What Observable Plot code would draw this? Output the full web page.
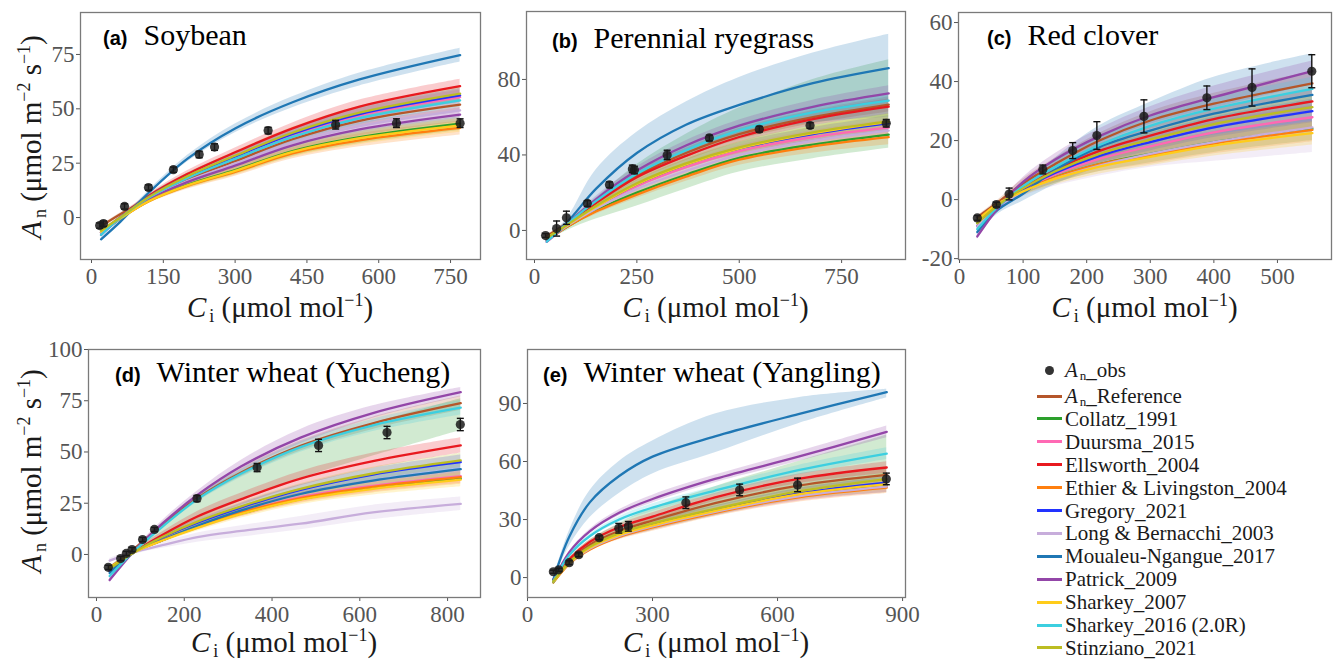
<!DOCTYPE html>
<html>
<head>
<meta charset="utf-8">
<script src="https://cdn.jsdelivr.net/npm/d3@7"></script>
<script src="https://cdn.jsdelivr.net/npm/@observablehq/plot@0.6"></script>
<style>
  html, body { margin: 0; padding: 0; background: #fff; }
  #root { position: relative; width: 1336px; height: 663px; overflow: hidden; background: #fff; }
  .pnl { position: absolute; }
  .pnl svg { max-width: none !important; display: block; }
  .ttl { position: absolute; white-space: nowrap; font-family: 'Liberation Serif', 'Times New Roman', serif; font-size: 30px; line-height: 30px; color: #000; }
  .ttl b { font-family: 'Liberation Sans', Arial, sans-serif; font-weight: bold; font-size: 20px; margin-right: 16px; }
  .axt { position: absolute; white-space: nowrap; font-family: 'Liberation Serif', 'Times New Roman', serif; font-size: 29px; line-height: 24px; color: #1a1a1a; }
  .yt { transform: translate(-50%, -50%) rotate(-90deg); }
  sub { font-size: 0.62em; vertical-align: -0.3em; line-height: 0; margin-left: 3px; }
  sup { font-size: 0.62em; vertical-align: 0.6em; line-height: 0; }
  .leg { position: absolute; left: 1037px; height: 20px; line-height: 20px; display: flex; align-items: center; font-family: 'Liberation Serif', 'Times New Roman', serif; font-size: 21px; color: #1a1a1a; white-space: nowrap; }
  .leg .sw { width: 25px; height: 3px; margin-right: 3px; }
  .leg .dt { width: 25px; margin-right: 3px; display: flex; justify-content: center; }
  .leg .dt span { width: 9px; height: 9px; border-radius: 50%; background: #333; display: block; }
  .leg sub { margin-left: 2px; vertical-align: -0.25em; }
</style>
</head>
<body>
<div id="root"></div>
<script>
// ---------- models ----------
const models = ["A_n_Reference", "Collatz_1991", "Duursma_2015", "Ellsworth_2004", "Ethier & Livingston_2004",
  "Gregory_2021", "Long & Bernacchi_2003", "Moualeu-Ngangue_2017", "Patrick_2009", "Sharkey_2007",
  "Sharkey_2016 (2.0R)", "Stinziano_2021"];
const modelColors = ["#b5562a", "#2ca02c", "#ff69b4", "#e8191f", "#ff7f0e", "#2233ff", "#c7addb",
  "#1f77b4", "#9346a8", "#ffcc1a", "#3ccfe0", "#bcbd22"];

// ---------- (a) Soybean ----------
const soyX = [20, 60, 120, 200, 300, 420, 560, 770];
const soyMid = [
  [-4, 1.5, 9, 17.5, 26, 36, 44.5, 51.9],
  [-7, -0.5, 7.7, 15, 21.8, 30.6, 37, 43.2],
  [-7, 0, 9.4, 18.6, 27.7, 38, 47, 55.4],
  [-7, 0, 10, 20, 30, 41, 51, 60.4],
  [-7, -0.5, 7.5, 14.5, 21, 29.5, 35.5, 41.2],
  [-7, 0, 9.5, 18.8, 28, 38.5, 47.6, 56.2],
  [-7, -0.3, 8.5, 16.8, 24.8, 34.3, 42, 49.3],
  [-10, -2, 11.5, 27, 41, 53, 63.5, 74.7],
  [-8, -0.4, 8.3, 16.3, 23.9, 33.2, 40.5, 47.3],
  [-6.5, -0.5, 7.6, 14.8, 21.5, 30.2, 36.5, 42.4],
  [-8, -0.2, 9.2, 18.1, 27, 37.1, 45.7, 53.9],
  [-6, 0, 9.5, 19, 28.4, 39, 48.2, 57]
];
const soyLo = [
  [-4.5, 0.9, 8, 16, 24, 33.5, 41.5, 48.7],
  [-7.5, -1.1, 6.7, 13.5, 19.8, 28.1, 34, 40],
  [-7.5, -0.6, 8.4, 17.1, 25.7, 35.5, 44, 52.2],
  [-7.5, -0.6, 9, 18.5, 28, 38.5, 48, 57.2],
  [-7.5, -1.1, 6.5, 13, 19, 27, 32.5, 38],
  [-7.5, -0.6, 8.5, 17.3, 26, 36, 44.6, 53],
  [-7.5, -0.9, 7.5, 15.3, 22.8, 31.8, 39, 46.1],
  [-10.5, -2.6, 10.5, 25.5, 39, 50.5, 60.5, 71.5],
  [-8.5, -1, 7.3, 14.8, 21.9, 30.7, 37.5, 44.1],
  [-7, -1.1, 6.6, 13.3, 19.5, 27.7, 33.5, 39.2],
  [-8.5, -0.8, 8.2, 16.6, 25, 34.6, 42.7, 50.7],
  [-6.5, -0.6, 8.5, 17.5, 26.4, 36.5, 45.2, 53.8]
];
const soyHi = [
  [-3.5, 2.1, 10, 19, 28, 38.5, 47.5, 55.1],
  [-6.5, 0.1, 8.7, 16.5, 23.8, 33.1, 40, 46.4],
  [-6.5, 0.6, 10.4, 20.1, 29.7, 40.5, 50, 58.6],
  [-6.5, 0.6, 11, 21.5, 32, 43.5, 54, 63.6],
  [-6.5, 0.1, 8.5, 16, 23, 32, 38.5, 44.4],
  [-6.5, 0.6, 10.5, 20.3, 30, 41, 50.6, 59.4],
  [-6.5, 0.3, 9.5, 18.3, 26.8, 36.8, 45, 52.5],
  [-9.5, -1.4, 12.5, 28.5, 43, 55.5, 66.5, 77.9],
  [-7.5, 0.2, 9.3, 17.8, 25.9, 35.7, 43.5, 50.5],
  [-6, 0.1, 8.6, 16.3, 23.5, 32.7, 39.5, 45.6],
  [-7.5, 0.4, 10.2, 19.6, 29, 39.6, 48.7, 57.1],
  [-5.5, 0.6, 10.5, 20.5, 30.4, 41.5, 51.2, 60.2]
];
const soyObsX = [17, 25, 69, 119, 171, 225, 257, 369, 510, 637, 770];
const soyObsY = [-3.7, -2.8, 5.1, 13.8, 22, 29, 32.4, 40, 42.7, 43.4, 43.4];
const soyObsErr = [1.2, 1.2, 1.2, 1.2, 1.2, 1.5, 1.5, 1.5, 2, 2, 2];

// ---------- (b) Perennial ryegrass ----------
const ryeX = [30, 80, 150, 250, 370, 500, 680, 865];
const ryeMid = [
  [-3, 4, 15, 29, 41, 51, 60, 66.7],
  [-5, 2, 10.5, 20, 29.5, 38.5, 45.5, 50.8],
  [-6, 2.5, 12, 23.5, 33.5, 42, 49.5, 54.5],
  [-5, 3.5, 14.5, 28.2, 39.5, 49.5, 59, 65.6],
  [-5, 2, 10, 19, 28.5, 37.5, 44.5, 49.4],
  [-5, 3, 12.5, 24.5, 35, 43.5, 51, 56.8],
  [-5, 2.5, 11.5, 22, 31.5, 40, 47.5, 52.9],
  [-5, 4.5, 22, 41, 56, 66.5, 78, 86],
  [-6, 3.5, 16.5, 31.7, 45, 55.5, 65.5, 72.6],
  [-4, 3, 12.5, 24.5, 35, 43.5, 51.5, 57.5],
  [-6, 3.5, 15.5, 30, 42.5, 53, 62.5, 68.8],
  [-4, 3, 13, 25, 35.5, 44, 52, 57.8]
];
const ryeLo = [
  [-3.5, 3.2, 13.5, 27, 38.5, 48, 56.5, 62.7],
  [-5.5, 0, 6, 13, 22, 31, 38, 43.5],
  [-6.5, 1.7, 10.5, 21.5, 31, 39, 46, 50.5],
  [-5.5, 2.7, 13, 26.2, 37, 46.5, 55.5, 61.6],
  [-5.5, 1.2, 8.5, 17, 26, 34.5, 41, 45.4],
  [-5.5, 2.2, 11, 22.5, 32.5, 40.5, 47.5, 52.8],
  [-5.5, 1.7, 10, 20, 29, 37, 44, 48.9],
  [-5.5, 3, 15, 29, 41, 50, 57, 60],
  [-6.5, 2.7, 15, 29.7, 42.5, 52.5, 62, 68.6],
  [-4.5, 2.2, 11, 22.5, 32.5, 40.5, 48, 53.5],
  [-6.5, 2.7, 14, 28, 40, 50, 59, 64.8],
  [-4.5, 2.2, 11.5, 23, 33, 41, 48.5, 53.8]
];
const ryeHi = [
  [-2.5, 4.8, 16.5, 31, 43.5, 54, 63.5, 70.7],
  [-4.5, 4, 17, 35, 51, 65, 80, 90.5],
  [-5.5, 3.3, 13.5, 25.5, 36, 45, 53, 58.5],
  [-4.5, 4.3, 16, 30.2, 42, 52.5, 62.5, 69.6],
  [-4.5, 2.8, 11.5, 21, 31, 40.5, 48, 53.4],
  [-4.5, 3.8, 14, 26.5, 37.5, 46.5, 54.5, 60.8],
  [-4.5, 3.3, 13, 24, 34, 43, 51, 56.9],
  [-4.5, 6.5, 32, 52, 68, 81, 94, 104],
  [-5.5, 4.3, 18, 33.7, 47.5, 58.5, 69, 76.6],
  [-3.5, 3.8, 14, 26.5, 37.5, 46.5, 55, 61.5],
  [-5.5, 4.3, 17, 32, 45, 56, 66, 72.8],
  [-3.5, 3.8, 14.5, 27, 38, 47, 55.5, 61.8]
];
const ryeObsX = [27, 54, 78, 129, 183, 239, 244, 324, 427, 549, 673, 859];
const ryeObsY = [-2.7, 1, 6.7, 14.3, 24.2, 32.6, 32, 40, 49, 53.6, 55.6, 56.8];
const ryeObsErr = [1, 4, 3.5, 1.5, 1.5, 2, 2, 2.5, 1.5, 1.5, 1.5, 2];

// ---------- (c) Red clover ----------
const cloX = [28, 60, 100, 150, 220, 300, 400, 555];
const cloMid = [
  [-6, -1, 5.5, 12, 20, 26.8, 32.5, 39.4],
  [-8, -2.5, 3, 7.5, 12, 15.5, 19.5, 24],
  [-9, -2.5, 3.2, 8.5, 13.8, 18, 22.8, 27.9],
  [-9, -2, 4, 10, 16.5, 21.7, 27.3, 33.3],
  [-7, -1.5, 3, 7.5, 12, 15, 19, 23.6],
  [-9, -2.5, 3.5, 9, 14.8, 19.5, 24.5, 30],
  [-9, -3, 2.5, 7, 11.5, 15.5, 19.5, 24.5],
  [-11, -3.5, 2, 10, 17.8, 23.4, 29.1, 35.5],
  [-12.5, -3, 6, 13.5, 21.5, 28.5, 34.7, 43.5],
  [-7, -1.5, 2.8, 7, 11.2, 14.5, 18.3, 22.5],
  [-10, -2.5, 4.5, 11, 18.5, 25, 30.8, 37.5],
  [-8, -2, 3.8, 9.5, 15.5, 20.3, 25.6, 31.3]
];
const cloLo = [
  [-6.5, -1.8, 4, 10, 17.5, 23.8, 29, 35.4],
  [-8.5, -3.3, 1.5, 5.5, 9.5, 12.5, 16, 20],
  [-9.5, -3.3, 1.7, 6.5, 11.3, 15, 19.3, 23.9],
  [-9.5, -2.8, 2.5, 8, 14, 18.7, 23.8, 29.3],
  [-7.5, -2.3, 1.5, 5.5, 9.5, 12, 15.5, 19.6],
  [-9.5, -3.3, 2, 7, 12.3, 16.5, 21, 26],
  [-10, -4, 1, 4.5, 8, 11, 13, 16],
  [-12, -5, -0.5, 5, 11, 15, 19, 23],
  [-13.5, -4, 4.5, 11.5, 19, 25.5, 31, 39],
  [-7.5, -2.3, 1.3, 5, 8.7, 11.5, 14.8, 18.5],
  [-10.5, -3.3, 3, 9, 16, 22, 27.3, 33.5],
  [-8.5, -2.8, 2.3, 7.5, 13, 17.3, 22.1, 27.3]
];
const cloHi = [
  [-5.5, -0.2, 7, 14, 22.5, 29.8, 36, 43.4],
  [-7.5, -1.7, 4.5, 9.5, 14.5, 18.5, 23, 28],
  [-8.5, -1.7, 4.7, 10.5, 16.3, 21, 26.3, 31.9],
  [-8.5, -1.2, 5.5, 12, 19, 24.7, 30.8, 37.3],
  [-6.5, -0.7, 4.5, 9.5, 14.5, 18, 22.5, 27.6],
  [-8.5, -1.7, 5, 11, 17.3, 22.5, 28, 34],
  [-8, -2, 4, 9.5, 15, 20, 25, 31],
  [-10, -2, 5, 14, 25, 33, 41.5, 49.4],
  [-11.5, -2, 7.5, 15.5, 24, 31.5, 38.5, 47],
  [-6.5, -0.7, 4.3, 9, 13.7, 17.5, 21.8, 26.5],
  [-9.5, -1.7, 6, 13, 21, 28, 34.3, 41.5],
  [-7.5, -1.2, 5.3, 11.5, 18, 23.3, 29.1, 35.3]
];
const cloObsX = [28, 58, 78, 131, 178, 216, 290, 389, 460, 554];
const cloObsY = [-6.2, -1.7, 1.9, 10.2, 16.6, 21.7, 28.2, 34.5, 38, 43.5];
const cloObsErr = [0.8, 0.8, 2, 1.5, 2.7, 4.7, 5.6, 4, 6.3, 5.6];

// ---------- (d) Winter wheat (Yucheng) ----------
const ycX = [30, 85, 150, 230, 330, 465, 630, 830];
const ycMid = [
  [-6.5, 2.5, 14.5, 27.5, 40, 53, 64, 73.8],
  [-7, 1, 7, 13.3, 20, 27, 32.5, 37],
  [-8, 1, 7, 13.5, 20.5, 28, 33.5, 38.2],
  [-8, 1, 9.5, 18.5, 27, 37, 45.5, 53.2],
  [-7, 1, 7, 13.5, 20.5, 27.5, 33, 37.7],
  [-8, 1, 8.3, 15.5, 23, 31.5, 39, 45],
  [-3, 1, 4.5, 8.5, 11.5, 15, 20.5, 24.7],
  [-9, 1, 7, 14, 21.5, 29.5, 36, 41.6],
  [-12.5, 1.5, 15, 29, 43, 57, 69, 79.2],
  [-6.5, 1, 6.8, 13, 19.8, 26.8, 32, 36.5],
  [-10.5, 1.5, 13.5, 27, 39.5, 52.4, 63, 71.6],
  [-7, 1, 8.5, 16, 23.5, 32, 39.5, 45.9]
];
const ycLo = [
  [-7, 2, 13.5, 26, 38, 50.5, 61, 70.3],
  [-7.5, 1, 8, 17, 26, 37, 48, 60.5],
  [-8.5, 0.5, 6, 12, 18.5, 25.5, 30.5, 34.7],
  [-8.5, 0, 8, 16, 24, 33.5, 42, 49.5],
  [-7.5, 0.5, 6, 12, 18.5, 25, 30, 34.2],
  [-8.5, 0.5, 7.3, 14, 21, 29, 36, 41.5],
  [-4, 0, 3, 6, 8.5, 12, 17, 21.5],
  [-9.5, 0.5, 6, 12.5, 19.5, 27, 33, 38.1],
  [-13.5, 0.5, 13.5, 27, 40.5, 54, 66.5, 77],
  [-7, 0.5, 5.8, 11.5, 17.8, 24.3, 29, 33],
  [-11, 1, 12.5, 25.5, 37.5, 49.9, 60, 68.1],
  [-7.5, 0.5, 7.5, 14.5, 21.5, 29.5, 36.5, 42.4]
];
const ycHi = [
  [-6, 3, 15.5, 29, 42, 55.5, 67, 77.3],
  [-6, 3, 14, 28, 40.5, 53, 64, 76],
  [-7.5, 1.5, 8, 15, 22.5, 30.5, 36.5, 41.7],
  [-7.5, 2, 11, 21, 30, 40.5, 49.5, 57],
  [-6.5, 1.5, 8, 15, 22.5, 30, 36, 41.2],
  [-7.5, 1.5, 9.3, 17, 25, 34, 42, 48.5],
  [-2, 2, 6, 10.5, 14, 18.5, 24, 28],
  [-8.5, 1.5, 8, 15.5, 23.5, 32, 39, 45.1],
  [-11.5, 2.5, 16.5, 31, 46, 61, 72.5, 81.5],
  [-6, 1.5, 7.8, 14.5, 21.8, 29.3, 35, 40],
  [-10, 2, 14.5, 28.5, 41.5, 54.9, 66, 75.1],
  [-6.5, 1.5, 9.5, 17.5, 25.5, 34.5, 42.5, 49.4]
];
const ycObsX = [27, 55, 68, 81, 105, 132, 229, 366, 506, 662, 829];
const ycObsY = [-6.3, -2, 0.5, 2.4, 7.3, 12.2, 27.3, 42.4, 53.2, 59.5, 63.4];
const ycObsErr = [1, 1, 1, 1, 1, 1, 1.5, 2, 3, 3, 3];

// ---------- (e) Winter wheat (Yangling) ----------
const ylX = [62, 100, 150, 220, 300, 450, 650, 862];
const ylMid = [
  [-1.5, 8.5, 17, 24, 29.5, 38.5, 47.5, 53.1],
  [-2.5, 7.5, 15, 21.5, 26.5, 34, 42.5, 47.4],
  [-2, 7.5, 15, 21.5, 26.5, 34, 42, 47],
  [-1, 9.5, 18.5, 26, 31.5, 41.5, 51, 56.9],
  [-2.5, 7, 14.5, 21, 25.9, 33.5, 41.5, 46.5],
  [-1.5, 7.5, 15.5, 22.5, 27.5, 35, 43.5, 49.1],
  [-1.5, 7.5, 15, 21.5, 26.5, 34, 42, 47],
  [-1, 21, 39, 52.5, 62.5, 73, 84.5, 95.9],
  [-2, 13, 24, 33.5, 40.6, 51, 62.5, 75.3],
  [-2, 7.5, 15.5, 22, 27, 34.5, 43, 48.3],
  [-2, 11.5, 21.5, 30, 36.2, 45, 55.5, 64.1],
  [-2, 8, 16, 23, 28, 35.5, 44.5, 50.9]
];
const ylLo = [
  [-1.8, 8, 16, 22.5, 27.5, 36.5, 45, 50.1],
  [-3, 6.5, 14, 20, 24.5, 32, 40, 44],
  [-2.3, 7, 14, 20, 24.5, 32, 39.5, 44],
  [-1.3, 9, 17.5, 24.5, 29.5, 39.5, 48.5, 53.9],
  [-2.8, 6.5, 13.5, 19.5, 23.9, 31.5, 39, 43.5],
  [-1.8, 7, 14.5, 21, 25.5, 33, 41, 46.1],
  [-1.8, 7, 14, 20, 24.5, 32, 39.5, 44],
  [-1.5, 16, 31, 43.5, 53.6, 64.5, 79.5, 92.9],
  [-2.3, 12.5, 23, 32, 38.6, 49, 60, 72.3],
  [-2.3, 7, 14.5, 20.5, 25, 32.5, 40.5, 45.3],
  [-2.3, 11, 20.5, 28.5, 34.2, 43, 53, 61.1],
  [-2.3, 7.5, 15, 21.5, 26, 33.5, 42, 47.9]
];
const ylHi = [
  [-1.2, 9, 18, 25.5, 31.5, 40.5, 50, 56.1],
  [-2, 10, 19.5, 28, 36, 47, 60, 73.7],
  [-1.7, 8, 16, 23, 28.5, 36, 44.5, 50],
  [-0.7, 10, 19.5, 27.5, 33.5, 43.5, 53.5, 59.9],
  [-2.2, 7.5, 15.5, 22.5, 27.9, 35.5, 44, 49.5],
  [-1.2, 8, 16.5, 24, 29.5, 37, 46, 52.1],
  [-1.2, 8, 16, 23, 28.5, 36, 44.5, 50],
  [-0.5, 24, 45, 60, 70.6, 84.5, 93, 97.3],
  [-1.7, 13.5, 25, 35, 42.6, 53, 65, 78.3],
  [-1.7, 8, 16.5, 23.5, 29, 36.5, 45.5, 51.3],
  [-1.7, 12, 22.5, 31.5, 38.2, 47, 58, 67.1],
  [-1.7, 8.5, 17, 24.5, 30, 37.5, 47, 53.9]
];
const ylObsX = [62, 75, 100, 123, 172, 219, 242, 380, 509, 648, 861];
const ylObsY = [3, 4, 7.7, 11.8, 20.6, 25.5, 26.5, 38.7, 45.3, 47.9, 51];
const ylObsErr = [0.8, 0.8, 1, 1, 1, 2.5, 2.5, 3, 3, 3.5, 3];

// ---------- tick values ----------
const soyXTicks = [0, 150, 300, 450, 600, 750], soyYTicks = [0, 25, 50, 75];
const ryeXTicks = [0, 250, 500, 750], ryeYTicks = [0, 40, 80];
const cloXTicks = [0, 100, 200, 300, 400, 500], cloYTicks = [-20, 0, 20, 40, 60];
const ycXTicks = [0, 200, 400, 600, 800], ycYTicks = [0, 25, 50, 75, 100];
const ylXTicks = [0, 300, 600, 900], ylYTicks = [0, 30, 60, 90];

// ---------- layout ----------
const panels = [
  {key: "(a)", name: "Soybean", xs: soyX, mid: soyMid, lo: soyLo, hi: soyHi, ox: soyObsX, oy: soyObsY, oe: soyObsErr,
   xt: soyXTicks, yt: soyYTicks, xd: [-23, 812.6], yd: [-19.3, 94.3],
   left: 0, top: 0, w: 490, h: 300, ml: 80, mr: 10, mt: 12, mb: 41, titleTop: 20, titleLeft: 103, axTop: 295, yCenter: 137, ylab: true},
  {key: "(b)", name: "Perennial ryegrass", xs: ryeX, mid: ryeMid, lo: ryeLo, hi: ryeHi, ox: ryeObsX, oy: ryeObsY, oe: ryeObsErr,
   xt: ryeXTicks, yt: ryeYTicks, xd: [-19.5, 906], yd: [-15.4, 116],
   left: 490, top: 0, w: 425, h: 300, ml: 36, mr: 10, mt: 11, mb: 41, titleTop: 23, titleLeft: 552, axTop: 295},
  {key: "(c)", name: "Red clover", xs: cloX, mid: cloMid, lo: cloLo, hi: cloHi, ox: cloObsX, oy: cloObsY, oe: cloObsErr,
   xt: cloXTicks, yt: cloYTicks, xd: [-1.6, 585], yd: [-20.3, 63.4],
   left: 915, top: 0, w: 421, h: 300, ml: 43, mr: 5, mt: 12, mb: 41, titleTop: 20, titleLeft: 987, axTop: 295},
  {key: "(d)", name: "Winter wheat (Yucheng)", xs: ycX, mid: ycMid, lo: ycLo, hi: ycHi, ox: ycObsX, oy: ycObsY, oe: ycObsErr,
   xt: ycXTicks, yt: ycYTicks, xd: [-18.2, 875], yd: [-21, 100],
   left: 0, top: 330, w: 490, h: 300, ml: 88, mr: 10, mt: 19, mb: 33, titleTop: 357, titleLeft: 115, axTop: 630, yCenter: 471, ylab: true},
  {key: "(e)", name: "Winter wheat (Yangling)", xs: ylX, mid: ylMid, lo: ylLo, hi: ylHi, ox: ylObsX, oy: ylObsY, oe: ylObsErr,
   xt: ylXTicks, yt: ylYTicks, xd: [0, 907], yd: [-10.3, 117.9],
   left: 490, top: 330, w: 425, h: 300, ml: 37, mr: 10, mt: 19, mb: 33, titleTop: 357, titleLeft: 543, axTop: 630}
];

const root = document.getElementById("root");
const cap = {draw(ctx, size) { const r = Math.sqrt(size / Math.PI); ctx.moveTo(-r, 0); ctx.lineTo(r, 0); }};

for (const p of panels) {
  const rows = [];
  models.forEach((m, k) => p.xs.forEach((x, i) => {
    rows.push({model: m, color: modelColors[k], x, y: p.mid[k][i], lo: p.lo[k][i], hi: p.hi[k][i]});
  }));
  const obs = p.ox.map((x, i) => ({x, y: p.oy[i], e: p.oe[i]}));
  const svg = Plot.plot({
    width: p.w, height: p.h,
    marginLeft: p.ml, marginRight: p.mr, marginTop: p.mt, marginBottom: p.mb,
    style: {fontFamily: "'Liberation Serif', 'Times New Roman', serif", fontSize: "23px", color: "#555555", background: "transparent", overflow: "visible"},
    x: {domain: p.xd, ticks: p.xt, tickSize: 4, tickPadding: 4, tickFormat: d => String(d), label: null},
    y: {domain: p.yd, ticks: p.yt, tickSize: 4, tickPadding: 2, tickFormat: d => String(d), label: null},
    color: {type: "identity"},
    marks: [
      Plot.areaY(rows, {x: "x", y1: "lo", y2: "hi", z: "model", fill: d => d.color, fillOpacity: 0.22, curve: "catmull-rom"}),
      Plot.line(rows, {x: "x", y: "y", z: "model", stroke: d => d.color, strokeWidth: 2.3, curve: "catmull-rom"}),
      Plot.ruleX(obs, {x: "x", y1: d => d.y - d.e, y2: d => d.y + d.e, stroke: "#111", strokeWidth: 1.4}),
      Plot.dot(obs, {x: "x", y: d => d.y + d.e, symbol: cap, r: 3.5, stroke: "#111", strokeWidth: 1.4, fill: "none"}),
      Plot.dot(obs, {x: "x", y: d => d.y - d.e, symbol: cap, r: 3.5, stroke: "#111", strokeWidth: 1.4, fill: "none"}),
      Plot.dot(obs, {x: "x", y: "y", r: 4.6, fill: "#1b1b1b", fillOpacity: 0.85, stroke: "none"}),
      Plot.frame({stroke: "#7a7a7a", strokeWidth: 1.3})
    ]
  });
  const holder = document.createElement("div");
  holder.className = "pnl";
  holder.style.left = p.left + "px";
  holder.style.top = p.top + "px";
  holder.style.width = p.w + "px";
  holder.style.height = p.h + "px";
  holder.appendChild(svg);
  root.appendChild(holder);

  // panel title
  const t = document.createElement("div");
  t.className = "ttl";
  t.style.left = p.titleLeft + "px";
  t.style.top = p.titleTop + "px";
  t.innerHTML = `<b>${p.key}</b>${p.name}`;
  root.appendChild(t);

  // x-axis title
  const fx0 = p.left + p.ml, fx1 = p.left + p.w - p.mr;
  const xt = document.createElement("div");
  xt.className = "axt";
  xt.innerHTML = `<i>C</i><sub>i</sub> (μmol mol<sup>−1</sup>)`;
  xt.style.top = p.axTop + "px";
  root.appendChild(xt);
  xt.style.left = ((fx0 + fx1) / 2 - xt.offsetWidth / 2) + "px";

  // y-axis title
  if (p.ylab) {
    const yt = document.createElement("div");
    yt.className = "axt yt";
    yt.innerHTML = `<i>A</i><sub>n</sub> (μmol m<sup>−2</sup> s<sup>−1</sup>)`;
    yt.style.left = "31px";
    yt.style.top = p.yCenter + "px";
    root.appendChild(yt);
  }
}

// ---------- legend ----------
const first = document.createElement("div");
first.className = "leg";
first.style.top = (370 - 10) + "px";
first.innerHTML = `<div class="dt"><span></span></div><span><i>A</i><sub>n</sub>_obs</span>`;
root.appendChild(first);
models.forEach((m, k) => {
  const row = document.createElement("div");
  row.className = "leg";
  row.style.top = (396 + 22.9 * k - 10) + "px";
  const label = k === 0 ? `<i>A</i><sub>n</sub>_Reference` : m.replace(/&/g, "&amp;");
  row.innerHTML = `<div class="sw" style="background:${modelColors[k]}"></div><span>${label}</span>`;
  root.appendChild(row);
});
</script>
</body>
</html>
